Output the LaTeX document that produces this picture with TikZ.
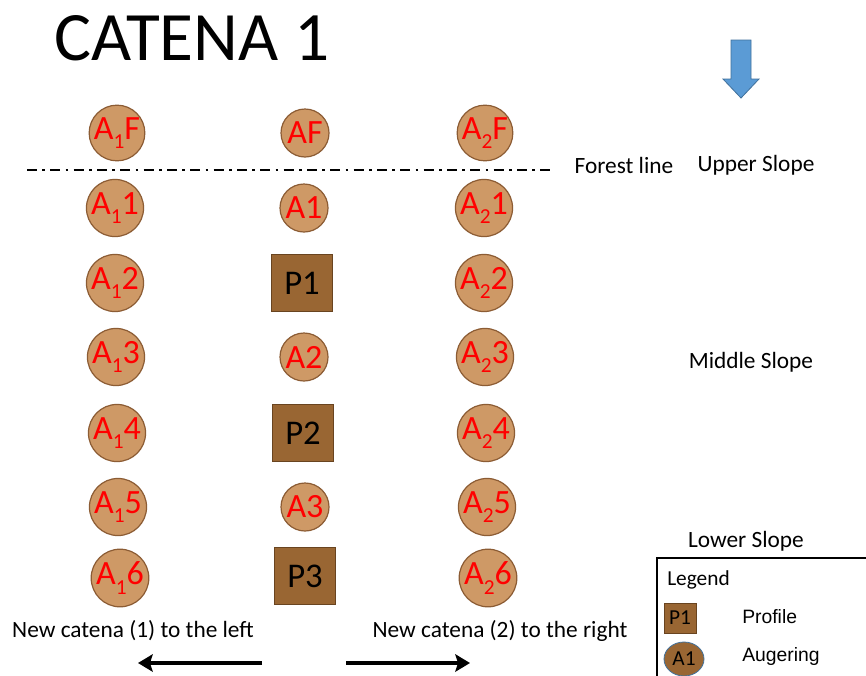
\documentclass[tikz,border=0pt]{standalone}
\usepackage{fontspec}
\setmainfont{Carlito}
\newfontfamily\arialfont{Liberation Sans}
\usetikzlibrary{arrows.meta,shapes.geometric}
\definecolor{augfill}{RGB}{206,153,102}
\definecolor{augdraw}{RGB}{140,92,52}
\definecolor{proffill}{RGB}{153,102,51}
\definecolor{profdraw}{RGB}{105,68,32}
\definecolor{bluefill}{RGB}{91,155,213}
\definecolor{bluedraw}{RGB}{65,113,156}
\definecolor{augred}{RGB}{255,0,0}
\newcommand{\sub}[1]{\raisebox{-0.28em}{\fontsize{16}{16}\selectfont #1}}
\tikzset{
  aug/.style={circle,fill=augfill,draw=augdraw,line width=0.9pt,minimum size=36pt,inner sep=0pt,
    text=augred,font=\fontsize{25.5}{25.5}\selectfont},
  prof/.style={rectangle,fill=proffill,draw=profdraw,line width=0.9pt,minimum width=45.5pt,minimum height=43pt,inner sep=0pt,
    font=\fontsize{26}{26}\selectfont},
  lbl/.style={inner sep=0pt,font=\fontsize{17.5}{17.5}\selectfont},
  bigarrow/.style={line width=2.3pt,-{Stealth[length=11pt,width=13pt,inset=2pt]}}
}
\begin{document}
\begin{tikzpicture}[x=0.75pt,y=-0.75pt]
\useasboundingbox (0,0) rectangle (866,675);
\fill[white] (0,0) rectangle (866,675);
% title
\node[inner sep=0pt,font=\fontsize{52}{52}\selectfont] (title) at (192,38) {CATENA 1};
% blue arrow
\filldraw[fill=bluefill,draw=bluedraw,line width=0.6pt]
  (731,40) -- (751,40) -- (751,79) -- (759,79) -- (741,98) -- (723,79) -- (731,79) -- cycle;
% forest line
\coordinate (fl1) at (27,170);
\coordinate (fl2) at (555,170);
\draw[line width=1.5pt,dash pattern=on 7.5pt off 4pt on 2pt off 4pt] (fl1) -- (fl2);
% left column
\node[aug] (a1f) at (117,133) {A\sub{1}F};
\node[aug] (a11) at (115,208) {A\sub{1}1};
\node[aug] (a12) at (115,283) {A\sub{1}2};
\node[aug] (a13) at (116,357) {A\sub{1}3};
\node[aug] (a14) at (117,433) {A\sub{1}4};
\node[aug] (a15) at (118,507) {A\sub{1}5};
\node[aug] (a16) at (120,578) {A\sub{1}6};
% middle column
\node[aug] (af) at (305,133) {AF};
\node[aug] (a1) at (304,208) {A1};
\node[prof] (p1) at (302,283) {P1};
\node[aug] (a2) at (304,357) {A2};
\node[prof] (p2) at (303,433) {P2};
\node[aug] (a3) at (305,507) {A3};
\node[prof] (p3) at (305,576) {P3};
% right column
\node[aug] (a2f) at (485,133) {A\sub{2}F};
\node[aug] (a21) at (484,208) {A\sub{2}1};
\node[aug] (a22) at (484,283) {A\sub{2}2};
\node[aug] (a23) at (485,357) {A\sub{2}3};
\node[aug] (a24) at (486,433) {A\sub{2}4};
\node[aug] (a25) at (487,507) {A\sub{2}5};
\node[aug] (a26) at (488,578) {A\sub{2}6};
% labels
\node[lbl] (forest) at (624,165) {Forest line};
\node[lbl] (upper) at (756,165) {Upper Slope};
\node[lbl] (middle) at (751,362) {Middle Slope};
\node[lbl] (lower) at (746,541) {Lower Slope};
% bottom
\node[lbl] (newl) at (133,631) {New catena (1) to the left};
\node[lbl] (newr) at (500,631) {New catena (2) to the right};
\coordinate (la1) at (262,663);
\coordinate (la2) at (138,663);
\coordinate (ra1) at (346,663);
\coordinate (ra2) at (470,663);
\draw[bigarrow] (la1) -- (la2);
\draw[bigarrow] (ra1) -- (ra2);
% legend
\draw[line width=0.8pt] (657,680) -- (657,558) -- (870,558);
\node[inner sep=0pt,anchor=west,font=\fontsize{16}{16}\selectfont] (legend) at (667,580) {Legend};
\node[rectangle,fill=proffill,draw=profdraw,line width=0.6pt,minimum width=24pt,minimum height=22.5pt,inner sep=0pt,
  font=\fontsize{16}{16}\selectfont] (lp1) at (680,618) {P1};
\node[ellipse,fill=proffill,draw=bluedraw,line width=0.6pt,minimum width=30pt,minimum height=25.5pt,inner sep=0pt,
  font=\fontsize{16}{16}\selectfont] (la) at (684,659) {A1};
\node[inner sep=0pt,anchor=west,font=\arialfont\fontsize{14.5}{14.5}\selectfont] (lprof) at (742,617) {Profile};
\node[inner sep=0pt,anchor=west,font=\arialfont\fontsize{14.5}{14.5}\selectfont] (laug) at (742,656) {Augering};
\end{tikzpicture}
\end{document}
